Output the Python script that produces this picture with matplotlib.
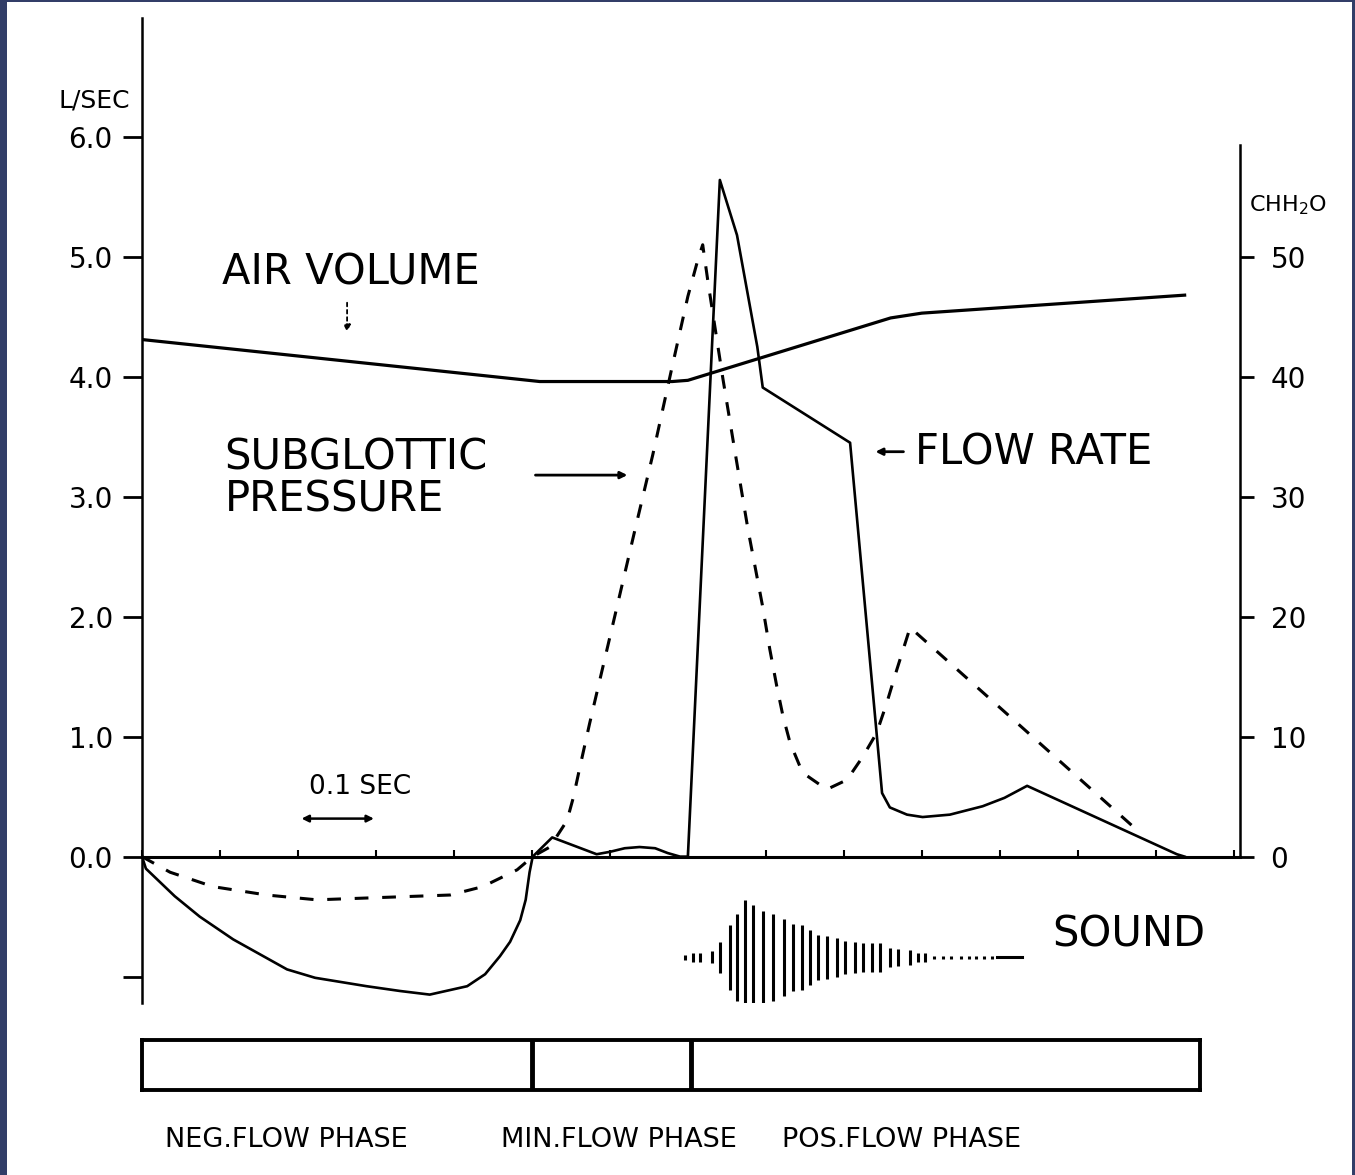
import matplotlib.pyplot as plt
from matplotlib.patches import Rectangle

# time axis in units of 0.1 sec (tick marks along the zero line)
t_vol = [0.0, 5.1, 6.8, 7.0, 7.15, 7.3, 9.6, 10.0, 13.37]
air_volume = [4.31, 3.96, 3.96, 3.97, 4.00, 4.03, 4.49, 4.53, 4.68]

t_flow = [0, 0.05, 0.42, 0.74, 1.17, 1.86, 2.22, 2.88, 3.31, 3.69, 4.17, 4.4, 4.59, 4.72,
          4.85, 4.92, 4.97, 5.01, 5.26, 5.83, 6.0, 6.19, 6.38, 6.58, 6.74, 6.9, 7.0,
          7.41, 7.63, 7.89, 7.96, 9.08, 9.49, 9.59, 9.81, 10.01, 10.36, 10.78, 11.06,
          11.35, 13.27, 13.37]
flow_rate = [0, -0.1, -0.33, -0.5, -0.69, -0.94, -1.01, -1.08, -1.12, -1.15, -1.08, -0.98,
             -0.83, -0.71, -0.53, -0.36, -0.13, 0, 0.16, 0.02, 0.04, 0.07, 0.08, 0.07,
             0.03, 0.0, 0.0, 5.64, 5.18, 4.25, 3.91, 3.45, 0.53, 0.41, 0.35, 0.33, 0.35,
             0.42, 0.49, 0.59, 0.02, 0.0]

# subglottic pressure, cm H2O (right axis)
t_press = [0, 0.36, 0.91, 1.6, 2.24, 3.09, 3.95, 4.37, 4.81, 5.01, 5.23, 5.45, 5.53, 5.62,
           5.74, 6.09, 6.32, 6.55, 6.78, 7.0, 7.13, 7.19, 7.26, 7.45, 7.6, 7.77, 7.96,
           8.05, 8.14, 8.22, 8.31, 8.47, 8.78, 9.04, 9.24, 9.42, 9.55, 9.68, 9.85, 12.71]
pressure = [0, -1.3, -2.5, -3.2, -3.6, -3.4, -3.2, -2.5, -1.1, 0, 0.8, 3.0, 4.9, 7.6,
            11.1, 20.8, 27.2, 33.5, 40.3, 46.7, 49.8, 51.0, 47.8, 39.8, 33.9, 27.3, 20.8,
            17.3, 14.2, 11.7, 9.5, 7.0, 5.6, 6.4, 8.3, 10.3, 12.8, 15.6, 19.1, 2.5]

# sound envelope (bar half heights)
sound_t = [6.96, 7.06, 7.15, 7.31, 7.41, 7.54, 7.63, 7.73, 7.83, 7.96, 8.09, 8.23, 8.35,
           8.46, 8.56, 8.67, 8.78, 8.91, 9.01, 9.14, 9.24, 9.36, 9.46, 9.59, 9.69, 9.85,
           9.95, 10.04, 10.15, 10.27, 10.38, 10.5, 10.6, 10.7, 10.8, 10.9]
sound_amp = [0.02, 0.04, 0.04, 0.05, 0.13, 0.27, 0.36, 0.48, 0.44, 0.39, 0.36, 0.32, 0.28,
             0.27, 0.23, 0.19, 0.18, 0.16, 0.14, 0.13, 0.12, 0.12, 0.12, 0.08, 0.07, 0.06,
             0.04, 0.04, 0.015, 0.015, 0.015, 0.015, 0.015, 0.015, 0.015, 0.015]
sound_tail = [10.96, 11.28]
sound_level = -0.84

phase_edges = [0, 5.0, 7.03, 13.56]
phase_labels = ['NEG.FLOW PHASE', 'MIN.FLOW PHASE', 'POS.FLOW PHASE']
phase_label_x = [0.3, 4.6, 8.2]

left_ticks = [-1, 0, 1, 2, 3, 4, 5, 6]
left_labels = ['', '0.0', '1.0', '2.0', '3.0', '4.0', '5.0', '6.0']
right_ticks = [0, 10, 20, 30, 40, 50]
right_labels = ['0', '10', '20', '30', '40', '50']

plt.rcParams['font.family'] = ['DejaVu Sans']

fig = plt.figure(figsize=(13.55, 11.75), dpi=100)
fig.patch.set_facecolor('#323e68')
fig.add_artist(Rectangle((7/1355, 0), 1345/1355, 1173/1175, transform=fig.transFigure,
                         fc='white', ec='none', zorder=-5))

ax = fig.add_axes([142/1355, 172/1175, 1098/1355, 985/1175])
ax.patch.set_alpha(0)
ax.set_xlim(0, 14.08)
ax.set_ylim(-1.22, 6.99)
ax.spines['top'].set_visible(False)
ax.spines['right'].set_visible(False)
ax.spines['left'].set_linewidth(1.8)
ax.spines['bottom'].set_position(('data', 0))
ax.spines['bottom'].set_linewidth(2.2)
ax.set_xticks(range(15))
ax.tick_params(axis='x', direction='in', length=5, width=1.5, labelbottom=False)
ax.set_yticks(left_ticks, left_labels)
ax.tick_params(axis='y', direction='out', length=14, width=2, labelsize=20, pad=7)

ax2 = ax.twinx()
ax2.set_ylim(-12.2, 69.9)
for s in ['top', 'left', 'bottom']:
    ax2.spines[s].set_visible(False)
ax2.spines['right'].set_bounds(0, 59.3)
ax2.spines['right'].set_linewidth(1.8)
ax2.set_yticks(right_ticks, right_labels)
ax2.tick_params(axis='y', direction='out', length=10, width=2, labelsize=20, pad=12)

ax.plot(t_vol, air_volume, color='k', lw=2.3)
ax.plot(t_flow, flow_rate, color='k', lw=1.9)
ax2.plot(t_press, pressure, color='k', lw=2.2, ls=(0, (4.5, 4.5)))

ax.vlines(sound_t, [sound_level - a for a in sound_amp], [sound_level + a for a in sound_amp],
          color='k', lw=2.2)
ax.plot(sound_tail, [sound_level, sound_level], color='k', lw=2.2)

txt = dict(fontsize=30, color='k')
ax.text(1.03, 4.87, 'AIR VOLUME', va='center', ha='left', **txt)
ax.annotate('', xy=(2.63, 4.35), xytext=(2.63, 4.64),
            arrowprops=dict(arrowstyle='-|>', color='k', lw=1.3, ls=(0, (2, 2))))
ax.text(1.06, 3.15, 'SUBGLOTTIC\nPRESSURE', va='center', ha='left', linespacing=1.0, **txt)
ax.annotate('', xy=(6.26, 3.18), xytext=(5.01, 3.18),
            arrowprops=dict(arrowstyle='-|>', color='k', lw=2))
ax.annotate('', xy=(9.37, 3.375), xytext=(9.8, 3.375),
            arrowprops=dict(arrowstyle='-|>', color='k', lw=2))
ax.text(9.91, 3.37, 'FLOW RATE', va='center', ha='left', **txt)
ax.text(11.67, -0.65, 'SOUND', va='center', ha='left', **txt)
ax.text(2.8, 0.58, '0.1 SEC', va='center', ha='center', fontsize=19)
ax.annotate('', xy=(2.01, 0.317), xytext=(3.01, 0.317),
            arrowprops=dict(arrowstyle='<|-|>', color='k', lw=1.8))
ax.text(-0.15, 6.3, 'L/SEC', va='center', ha='right', fontsize=18)
ax.text(14.2, 5.43, 'CHH$_2$O', va='center', ha='left', fontsize=16)

axp = fig.add_axes([142/1355, 85/1175, 1058/1355, 50/1175])
axp.set_xlim(phase_edges[0], phase_edges[-1])
axp.set_ylim(0, 1)
axp.set_xticks([])
axp.set_yticks([])
for s in axp.spines.values():
    s.set_linewidth(2.8)
for e in phase_edges[1:-1]:
    axp.axvline(e, color='k', lw=3.5)
for x, lab in zip(phase_label_x, phase_labels):
    axp.text(x, -1.0, lab, va='center', ha='left', fontsize=19.5)

fig.savefig('out.png', dpi=100, facecolor=fig.get_facecolor())
